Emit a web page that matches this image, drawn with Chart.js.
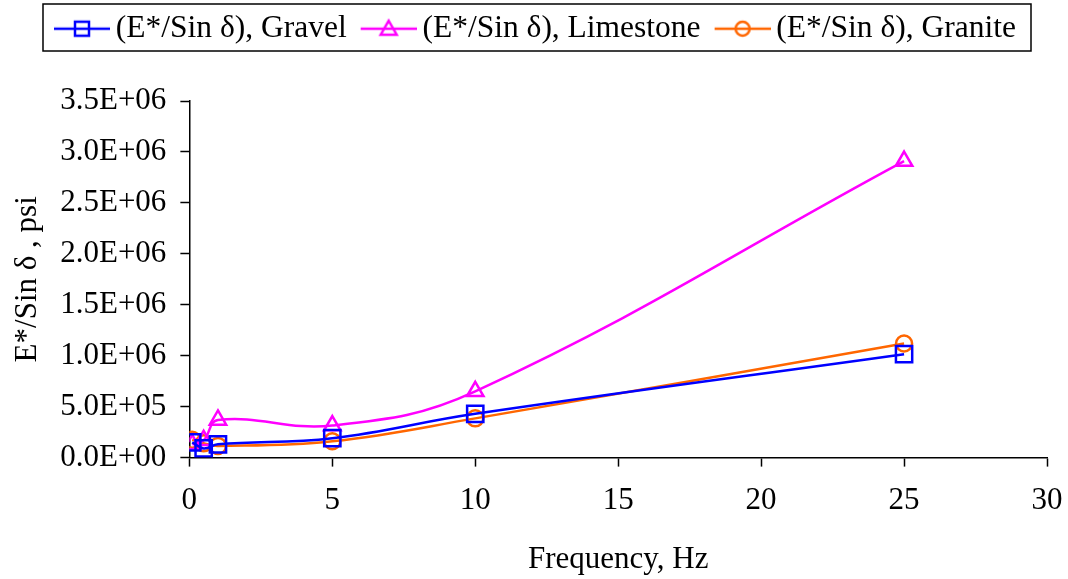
<!DOCTYPE html>
<html>
<head>
<meta charset="utf-8">
<script src="https://cdn.jsdelivr.net/npm/chart.js@4/dist/chart.umd.min.js"></script>
<style>
  html, body { margin: 0; padding: 0; background: #fff; }
  #wrap { width: 1068px; height: 579px; }
</style>
</head>
<body>
<div id="wrap"><canvas id="myChart" width="1068" height="579"></canvas></div>
<script>
// frequencies (Hz) and E*/Sin delta values (psi)
var freqs = [0.1, 0.5, 1, 5, 10, 25];
var gravel = [150000, 90000, 130000, 190000, 430000, 1015000];
var limestone = [130000, 170000, 370000, 315000, 650000, 2910000];
var granite = [175000, 140000, 115000, 160000, 385000, 1120000];
var seriesNames = ['(E*/Sin \u03b4), Gravel', '(E*/Sin \u03b4), Limestone', '(E*/Sin \u03b4), Granite'];
var xTicks = [0, 5, 10, 15, 20, 25, 30];
var yTicks = [0, 500000, 1000000, 1500000, 2000000, 2500000, 3000000, 3500000];

var FONT = "'Liberation Serif', 'Times New Roman', serif";
var FS = 31;
var blue = '#0000ff', pink = '#ff00ff', orange = '#ff6600';

function pts(ys) {
  return freqs.map(function (f, i) { return { x: f, y: ys[i] }; });
}

function fmtSci(v) {
  if (v === 0) return '0.0E+00';
  var e = Math.floor(Math.log10(v));
  var m = v / Math.pow(10, e);
  return m.toFixed(1) + 'E+' + (e < 10 ? '0' : '') + e;
}

// legend swatch: line with open marker, drawn in the right part of the canvas
function swatch(color, shape) {
  var c = document.createElement('canvas');
  c.width = 67; c.height = 22;
  var g = c.getContext('2d');
  var cx = 39;
  g.strokeStyle = color;
  g.lineWidth = 2.5;
  g.beginPath(); g.moveTo(11, 11); g.lineTo(67, 11); g.stroke();
  g.beginPath();
  if (shape === 'rect') {
    g.rect(cx - 7, 4, 14, 14);
  } else if (shape === 'triangle') {
    g.moveTo(cx, 3); g.lineTo(cx + 8, 17); g.lineTo(cx - 8, 17); g.closePath();
  } else {
    g.arc(cx, 11, 7, 0, Math.PI * 2);
  }
  g.stroke();
  return c;
}

var legendBox = {
  id: 'legendBox',
  beforeInit: function (chart) {
    var fit = chart.legend.fit;
    chart.legend.fit = function () {
      fit.call(this);
      this.height = 101;
    };
  },
  afterDraw: function (chart) {
    var boxes = chart.legend.legendHitBoxes;
    if (!boxes || !boxes.length) return;
    var l = Math.min.apply(null, boxes.map(function (b) { return b.left; }));
    var r = Math.max.apply(null, boxes.map(function (b) { return b.left + b.width; }));
    var ctx = chart.ctx;
    ctx.save();
    ctx.strokeStyle = '#000';
    ctx.lineWidth = 1.5;
    ctx.strokeRect(l - 10, 4, r - l + 25, 47);
    ctx.restore();
  }
};

function ds(label, data, color, shape, radius) {
  return {
    label: label,
    data: pts(data),
    borderColor: color,
    backgroundColor: 'rgba(0,0,0,0)',
    borderWidth: 2.5,
    pointStyle: shape,
    pointRadius: radius,
    pointHoverRadius: radius,
    pointBorderWidth: 2.5,
    pointBorderColor: color,
    pointBackgroundColor: 'rgba(0,0,0,0)',
    tension: 0.4,
    fill: false
  };
}

var swatches = [swatch(blue, 'rect'), swatch(pink, 'triangle'), swatch(orange, 'circle')];

new Chart('myChart', {
  type: 'line',
  data: {
    datasets: [
      ds(seriesNames[0], gravel, blue, 'rect', 11.5),
      ds(seriesNames[1], limestone, pink, 'triangle', 9.5),
      ds(seriesNames[2], granite, orange, 'circle', 8)
    ]
  },
  options: {
    responsive: false,
    animation: false,
    layout: { padding: { left: 1, right: 0, top: 0, bottom: 1 } },
    plugins: {
      tooltip: { enabled: false },
      legend: {
        position: 'top',
        align: 'center',
        labels: {
          font: { family: FONT, size: 31.5 },
          color: '#000',
          usePointStyle: true,
          pointStyleWidth: 47,
          padding: 13,
          generateLabels: function (chart) {
            return chart.data.datasets.map(function (d, i) {
              return {
                text: d.label,
                pointStyle: swatches[i],
                fillStyle: 'rgba(0,0,0,0)',
                strokeStyle: 'rgba(0,0,0,0)',
                lineWidth: 0,
                fontColor: '#000',
                datasetIndex: i
              };
            });
          }
        }
      }
    },
    scales: {
      x: {
        type: 'linear',
        min: 0,
        max: 30,
        afterBuildTicks: function (s) { s.ticks = xTicks.map(function (v) { return { value: v }; }); },
        afterFit: function (s) { s.paddingRight = 21; },
        border: { color: '#000', width: 1.5 },
        grid: { drawOnChartArea: false, color: '#000', tickLength: 9, tickWidth: 1.5 },
        ticks: { color: '#000', font: { family: FONT, size: FS }, padding: 16, maxRotation: 0 },
        title: {
          display: true,
          text: 'Frequency, Hz',
          color: '#000',
          font: { family: FONT, size: FS },
          padding: { top: 5, bottom: 0 }
        }
      },
      y: {
        min: 0,
        max: 3500000,
        afterBuildTicks: function (s) { s.ticks = yTicks.map(function (v) { return { value: v }; }); },
        border: { color: '#000', width: 1.5 },
        grid: { drawOnChartArea: false, color: '#000', tickLength: 9, tickWidth: 1.5 },
        ticks: {
          color: '#000',
          font: { family: FONT, size: FS },
          padding: 14,
          callback: function (v) { return fmtSci(v); }
        },
        title: {
          display: true,
          text: 'E*/Sin \u03b4 , psi',
          color: '#000',
          font: { family: FONT, size: FS },
          padding: { top: 8, bottom: 0 }
        }
      }
    }
  },
  plugins: [legendBox]
});
</script>
</body>
</html>
